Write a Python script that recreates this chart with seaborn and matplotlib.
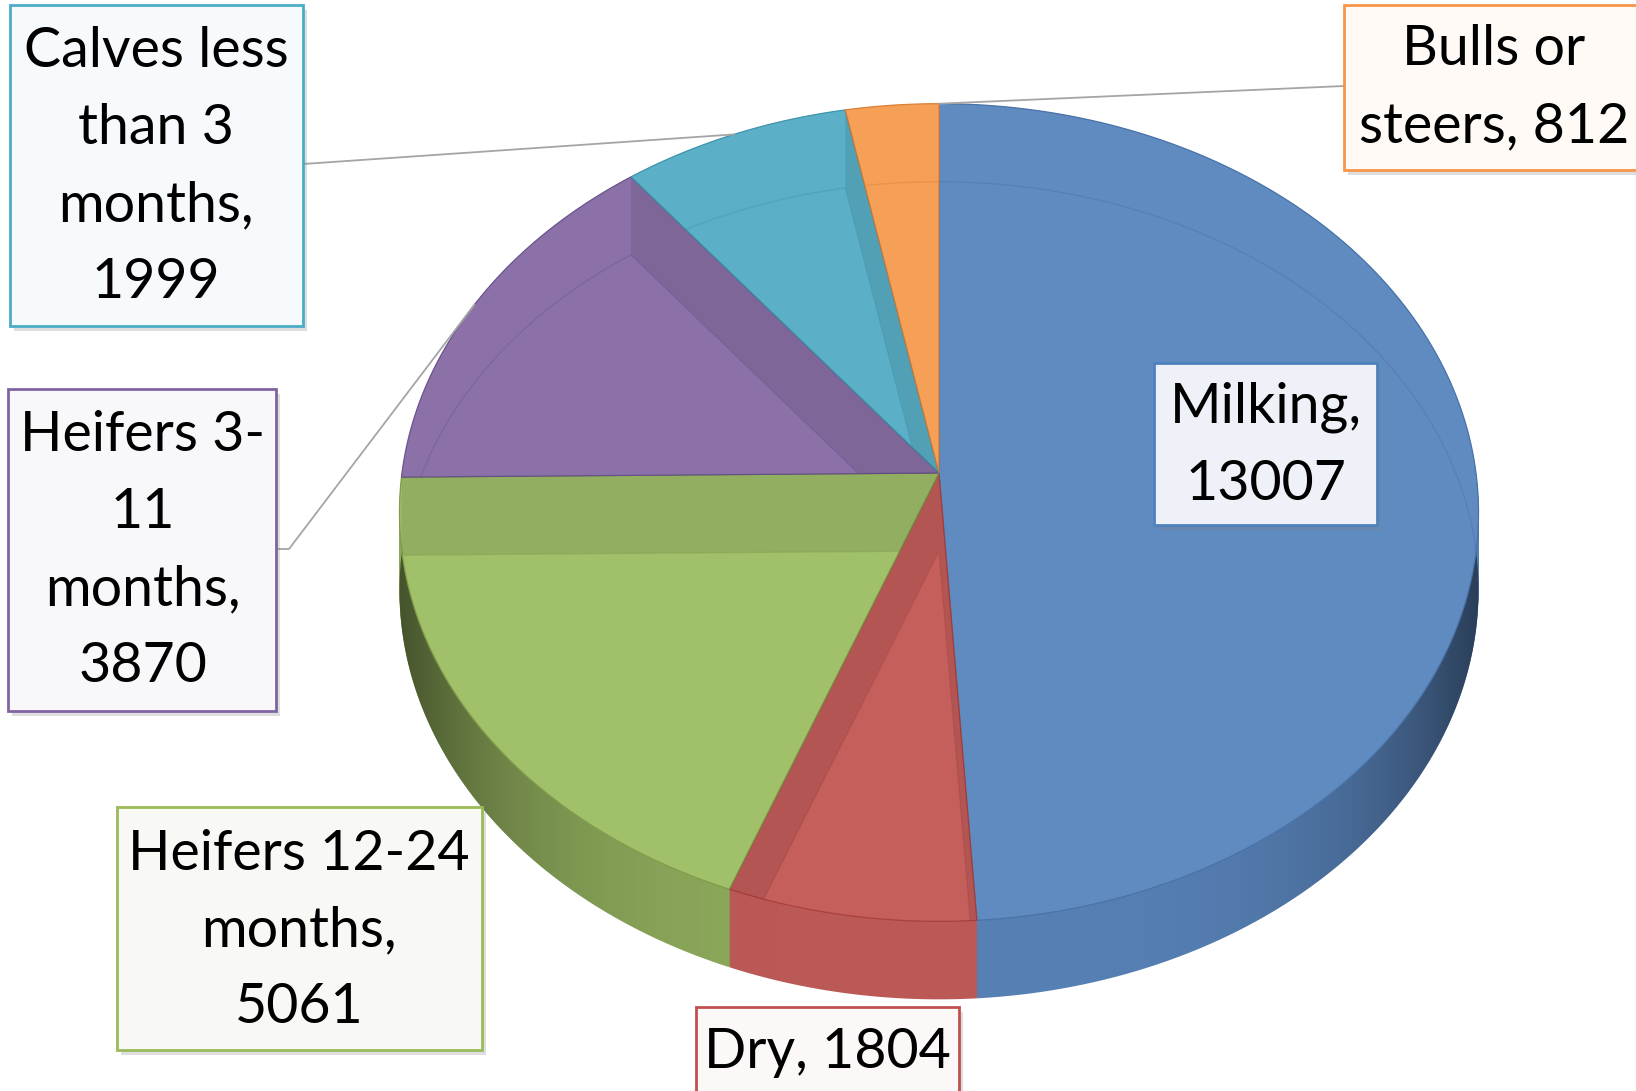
import numpy as np
import matplotlib
matplotlib.use("Agg")
import matplotlib.pyplot as plt
import matplotlib.transforms as mtransforms
from matplotlib.path import Path
from matplotlib.patches import Polygon, Rectangle
import seaborn as sns

# data (clockwise from 12 o'clock)
categories = ["Milking", "Dry", "Heifers 12-24 months", "Heifers 3-11 months",
              "Calves less than 3 months", "Bulls or steers"]
values = [13007, 1804, 5061, 3870, 1999, 812]
label_fmt = ["Milking,\n{}", "Dry, {}", "Heifers 12-24\nmonths,\n{}",
             "Heifers 3-\n11\nmonths,\n{}", "Calves less\nthan 3\nmonths,\n{}",
             "Bulls or\nsteers, {}"]

top_colors = ["#608bc0", "#c55f5c", "#a1c06a", "#8b71a8", "#5bb0c8", "#f5a056"]
side_colors = ["#567fb4", "#bb5956", "#8ca85a", "#735a91", "#4896ae", "#dc8741"]
edge_colors = ["#4a73a8", "#a8423f", "#819c4a", "#6c5590", "#3f95ad", "#d9813a"]
box_edges = ["#4f81bd", "#c0504d", "#9bbb59", "#8064a2", "#4bacc6", "#f79646"]
box_fills = ["#eef2f8", "#fcf8f8", "#f8f9f5", "#f8f8fb", "#f6fafc", "#fffaf5"]

W, H = 1636, 1091
CX, CY = 939, 473          # apex of the pie on screen
A, B, K = 537, 405, 0.0967  # perspective ellipse
DEPTH = 78


def proj(u, v, dz=0.0):
    w = 1 + K * v
    return CX + A * u / w, CY - B * v / w + dz


class Persp(mtransforms.Transform):
    input_dims = output_dims = 2
    is_separable = False
    has_inverse = False

    def __init__(self, dz=0.0):
        super().__init__()
        self.dz = dz

    def transform_non_affine(self, values):
        values = np.asarray(values, float)
        x, y = proj(values[:, 0], values[:, 1], self.dz)
        return np.column_stack([x, y])

    def transform_path_non_affine(self, path):
        pts = []
        t = np.linspace(0, 1, 40)
        for seg, code in path.iter_bezier():
            if seg.degree < 1:
                pts.append(np.atleast_2d(seg.control_points))
            else:
                pts.append(seg(t))
        pts = np.vstack(pts)
        return Path(self.transform_non_affine(pts), closed=True)


sns.set_theme(style="white")
plt.rcParams["font.family"] = ["Lato", "DejaVu Sans"]

fig = plt.figure(figsize=(W / 100, H / 100), dpi=100)
ax = fig.add_axes([0, 0, 1, 1])


def draw_pie(face, dz, z, **kw):
    wedges, _ = ax.pie(values, colors=face, startangle=90, counterclock=False,
                       radius=1, center=(0, 0), wedgeprops=kw)
    for w in wedges:
        w.set_transform(Persp(dz) + ax.transData)
        w.set_zorder(z)
    return wedges


# side of the cylinder
for dz in np.linspace(DEPTH, 0, 60):
    draw_pie(side_colors, dz, 1, linewidth=0)

# shading on the side
phi = np.radians(np.linspace(180, 360, 200))
tx, ty = proj(np.cos(phi), np.sin(phi), 0)
bx, by = proj(np.cos(phi), np.sin(phi), DEPTH)
band = Polygon(np.column_stack([np.r_[tx, bx[::-1]], np.r_[ty, by[::-1]]]),
               closed=True, transform=ax.transData)
xs = np.linspace(0, W, 600)
g = np.clip(np.abs(xs - CX) / A, 0, 1)
img = np.zeros((2, 600, 4))
img[..., 3] = 0.5 * g ** 4
im = ax.imshow(img, extent=(0, W, H, 0), aspect="auto", zorder=1.5,
               interpolation="bilinear")
im.set_clip_path(band)

# top surface
top = draw_pie(top_colors, 0, 2, linewidth=0.9)
for w, ec in zip(top, edge_colors):
    w.set_edgecolor(ec)

# inner faces and bottom rim seen through the top
bottom = draw_pie(["none"] * len(values), DEPTH, 2.6, linewidth=1.0)
for i, w in enumerate(top):
    for t in (w.theta1, w.theta2):
        c, s = np.cos(np.radians(t)), np.sin(np.radians(t))
        pts = [proj(0, 0, 0), proj(c, s, 0), proj(c, s, DEPTH), proj(0, 0, DEPTH)]
        face = Polygon(pts, closed=True, facecolor="black", alpha=0.09,
                       edgecolor="none", zorder=2.5)
        ax.add_patch(face)
        face.set_clip_path(w)
        face.set_clip_on(True)
    bottom[i].set_edgecolor(edge_colors[i])
    bottom[i].set_alpha(0.4)
    bottom[i].set_clip_path(w)
    bottom[i].set_clip_on(True)

# labels
boxes = [(1154, 363, 1377, 525), (696, 1007, 959, 1110), (117, 807, 482, 1050),
         (8, 389, 276, 711), (10, 5, 303, 326), (1344, 5, 1660, 170)]
text_pos = [(1266, 446), (827, 1053), (299, 931), (143, 551), (156, 167), (1494, 88)]

for i, (x0, y0, x1, y1) in enumerate(boxes):
    ax.add_patch(Rectangle((x0 + 4, y0 + 5), x1 - x0, y1 - y0, facecolor="#7f7f7f",
                           alpha=0.25, edgecolor="none", zorder=3.8))
    ax.add_patch(Rectangle((x0, y0), x1 - x0, y1 - y0, facecolor=box_fills[i],
                           edgecolor=box_edges[i], linewidth=2, zorder=4))
    ax.text(*text_pos[i], label_fmt[i].format(values[i]), ha="center", va="center",
            fontsize=40, linespacing=1.63, color="black", zorder=5)

# leader lines to the rim
cum = np.cumsum([0] + values) / sum(values) * 360
leaders = {4: ([303, 303], [164, 164], 0.5), 5: ([1344, 1344], [86, 86], 1.0),
           3: ([276, 289], [549, 549], 0.5)}
for i, (lx, ly, frac) in leaders.items():
    ang = np.radians(90 - (cum[i] + frac * (cum[i + 1] - cum[i])))
    ex, ey = proj(np.cos(ang), np.sin(ang), 0)
    ax.plot(lx + [ex], ly + [ey], color="#a5a5a5", linewidth=1.3, zorder=3)

ax.set_xlim(0, W)
ax.set_ylim(H, 0)
ax.set_aspect("auto")
ax.axis("off")
fig.savefig("out.png", dpi=100)
